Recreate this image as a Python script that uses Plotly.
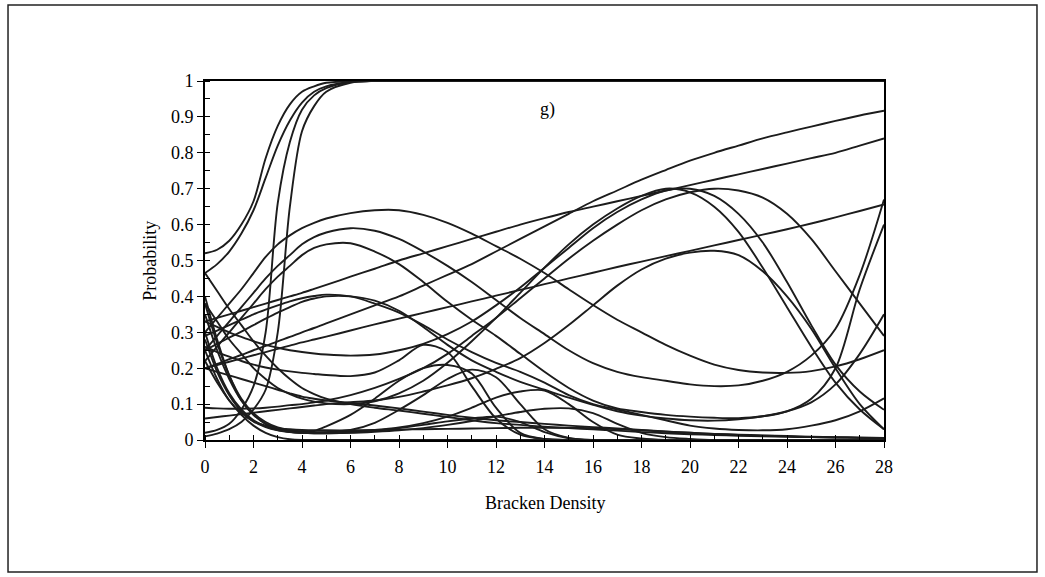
import plotly.graph_objects as go

# Shared x grid (Bracken Density) on which each curve was read
bracken_density = [0, 0.5, 1, 1.5, 2, 2.5, 3, 3.5, 4, 4.5, 5,
                   6, 7, 8, 9, 10, 11, 12, 13, 14, 15, 16, 17, 18, 19, 20,
                   21, 22, 23, 24, 25, 26, 27, 28]

rise_a = [0.52, 0.53, 0.555, 0.60, 0.665, 0.785, 0.875, 0.935, 0.97, 0.985, 0.995,
          0.999] + [1.0] * 22
rise_b = [0.465, 0.49, 0.525, 0.575, 0.64, 0.73, 0.82, 0.89, 0.94, 0.97, 0.985,
          0.998] + [1.0] * 22
rise_c = [0.02, 0.028, 0.045, 0.085, 0.15, 0.30, 0.66, 0.83, 0.92, 0.96, 0.98,
          0.997] + [1.0] * 22
rise_d = [0.01, 0.018, 0.03, 0.05, 0.085, 0.14, 0.30, 0.65, 0.86, 0.93, 0.97,
          0.995] + [1.0] * 22

fall_d1 = [0.465, 0.415, 0.365, 0.32, 0.275, 0.235, 0.2, 0.17, 0.145, 0.128, 0.115,
           0.1, 0.09, 0.082, 0.073, 0.064, 0.055, 0.047, 0.042, 0.037, 0.033, 0.03,
           0.026, 0.022, 0.019, 0.016, 0.014, 0.012, 0.01, 0.009, 0.008, 0.007, 0.006, 0.005]

dome_1 = [0.30, 0.34, 0.38, 0.42, 0.465, 0.51, 0.545, 0.57, 0.59, 0.605, 0.617,
          0.632, 0.64, 0.64, 0.627, 0.605, 0.575, 0.54, 0.505, 0.465, 0.42, 0.376,
          0.335, 0.30, 0.265, 0.235, 0.21, 0.195, 0.188, 0.187, 0.192, 0.205, 0.225, 0.25]
dome_2 = [0.25, 0.29, 0.33, 0.37, 0.41, 0.45, 0.485, 0.515, 0.545, 0.565, 0.578,
          0.59, 0.583, 0.56, 0.525, 0.485, 0.44, 0.39, 0.34, 0.295, 0.25, 0.214,
          0.19, 0.175, 0.165, 0.155, 0.15, 0.152, 0.165, 0.19, 0.235, 0.31, 0.46, 0.67]
dome_3 = [0.22, 0.26, 0.30, 0.34, 0.38, 0.42, 0.455, 0.485, 0.515, 0.535, 0.545,
          0.548, 0.525, 0.49, 0.44, 0.385, 0.335, 0.29, 0.24, 0.19, 0.145, 0.11,
          0.088, 0.078, 0.07, 0.065, 0.062, 0.061, 0.066, 0.08, 0.115, 0.2, 0.42, 0.6]
dome_4a = [0.25, 0.268, 0.285, 0.302, 0.32, 0.338, 0.355, 0.37, 0.385, 0.394, 0.4,
           0.4, 0.388, 0.36, 0.315, 0.265, 0.222, 0.19, 0.162, 0.14, 0.118, 0.098,
           0.08, 0.068, 0.06, 0.055, 0.054, 0.058, 0.066, 0.08, 0.105, 0.155, 0.24, 0.35]
dome_4b = [0.29, 0.305, 0.32, 0.335, 0.35, 0.363, 0.375, 0.386, 0.395, 0.401, 0.405,
           0.4, 0.38, 0.355, 0.32, 0.28, 0.245, 0.215, 0.19, 0.16, 0.125, 0.1,
           0.085, 0.07, 0.055, 0.04, 0.032, 0.028, 0.027, 0.03, 0.04, 0.055, 0.08, 0.116]

line_r1 = [0.2, 0.212, 0.225, 0.237, 0.25, 0.262, 0.275, 0.287, 0.3, 0.312, 0.325,
           0.35, 0.375, 0.4, 0.43, 0.46, 0.49, 0.525, 0.56, 0.595, 0.63, 0.665,
           0.695, 0.725, 0.752, 0.778, 0.8, 0.82, 0.84, 0.857, 0.873, 0.889, 0.904, 0.917]
line_r2 = [0.33, 0.34, 0.35, 0.36, 0.37, 0.38, 0.39, 0.4, 0.41, 0.421, 0.432,
           0.455, 0.477, 0.5, 0.52, 0.54, 0.56, 0.58, 0.6, 0.618, 0.635, 0.65,
           0.665, 0.68, 0.695, 0.71, 0.725, 0.74, 0.755, 0.77, 0.785, 0.80, 0.82, 0.84]
line_r3 = [0.2, 0.209, 0.218, 0.227, 0.236, 0.245, 0.254, 0.263, 0.272, 0.28, 0.288,
           0.305, 0.322, 0.338, 0.354, 0.37, 0.386, 0.402, 0.418, 0.434, 0.45, 0.466,
           0.482, 0.497, 0.512, 0.527, 0.542, 0.557, 0.572, 0.587, 0.603, 0.62, 0.638, 0.656]

peak_p1 = [0.09, 0.088, 0.087, 0.087, 0.088, 0.09, 0.093, 0.097, 0.1, 0.105, 0.11,
           0.125, 0.145, 0.17, 0.2, 0.24, 0.29, 0.34, 0.395, 0.45, 0.505, 0.555,
           0.6, 0.64, 0.67, 0.69, 0.70, 0.695, 0.675, 0.63, 0.56, 0.47, 0.38, 0.29]
peak_p2 = [0.06, 0.064, 0.068, 0.072, 0.076, 0.08, 0.084, 0.088, 0.092, 0.096, 0.1,
           0.105, 0.11, 0.12, 0.135, 0.152, 0.172, 0.198, 0.228, 0.27, 0.32, 0.375,
           0.43, 0.475, 0.505, 0.522, 0.527, 0.515, 0.47, 0.4, 0.31, 0.2, 0.1, 0.03]
peak_p3 = [0.33, 0.315, 0.3, 0.287, 0.275, 0.265, 0.257, 0.25, 0.245, 0.241, 0.238,
           0.235, 0.238, 0.25, 0.268, 0.295, 0.33, 0.375, 0.425, 0.48, 0.535, 0.59,
           0.635, 0.67, 0.695, 0.70, 0.68, 0.63, 0.55, 0.44, 0.32, 0.21, 0.135, 0.084]
peak_p4 = [0.38, 0.33, 0.28, 0.24, 0.2, 0.17, 0.145, 0.128, 0.115, 0.107, 0.102,
           0.1, 0.108, 0.13, 0.165, 0.215, 0.275, 0.34, 0.41, 0.48, 0.545, 0.6,
           0.645, 0.68, 0.70, 0.69, 0.65, 0.58, 0.48, 0.37, 0.26, 0.16, 0.085, 0.03]

bump_1 = [0.26, 0.245, 0.232, 0.22, 0.21, 0.202, 0.196, 0.191, 0.187, 0.184, 0.181,
          0.178, 0.188, 0.222, 0.265, 0.245, 0.15, 0.06, 0.015, 0.003] + [0.0] * 14
bump_2 = [0.35, 0.25, 0.17, 0.11, 0.07, 0.045, 0.03, 0.023, 0.02, 0.025, 0.038,
          0.07, 0.115, 0.165, 0.2, 0.209, 0.185, 0.09, 0.02, 0.003] + [0.0] * 14
bump_3 = [0.40, 0.28, 0.18, 0.11, 0.07, 0.045, 0.032, 0.025, 0.022, 0.021, 0.022,
          0.028, 0.048, 0.084, 0.125, 0.17, 0.196, 0.175, 0.1, 0.03, 0.006] + [0.0] * 13
bump_4 = [0.38, 0.27, 0.18, 0.115, 0.075, 0.05, 0.035, 0.028, 0.024, 0.022, 0.022,
          0.024, 0.028, 0.035, 0.047, 0.065, 0.09, 0.118, 0.135, 0.138, 0.1, 0.05,
          0.015, 0.004] + [0.0] * 10
bump_5 = [0.3, 0.2, 0.13, 0.085, 0.055, 0.038, 0.028, 0.023, 0.02, 0.019, 0.019,
          0.021, 0.026, 0.033, 0.042, 0.052, 0.06, 0.065, 0.05, 0.022, 0.005] + [0.0] * 13
bump_6 = [0.28, 0.19, 0.125, 0.08, 0.052, 0.036, 0.027, 0.022, 0.02, 0.019, 0.019,
          0.02, 0.023, 0.027, 0.033, 0.042, 0.053, 0.066, 0.078, 0.087, 0.088, 0.075,
          0.045, 0.02, 0.008, 0.003] + [0.0] * 8

low_l = [0.25, 0.17, 0.11, 0.075, 0.052, 0.04, 0.033, 0.03, 0.028, 0.027, 0.027,
         0.027, 0.028, 0.029, 0.03, 0.031, 0.032, 0.033, 0.034, 0.034, 0.034, 0.033,
         0.03, 0.027, 0.023, 0.02, 0.017, 0.014, 0.012, 0.01, 0.008, 0.007, 0.006, 0.005]
slow_s1 = [0.2, 0.19, 0.18, 0.17, 0.16, 0.15, 0.14, 0.13, 0.121, 0.115, 0.11,
           0.103, 0.096, 0.088, 0.079, 0.07, 0.062, 0.055, 0.05, 0.045, 0.04, 0.036,
           0.032, 0.028, 0.024, 0.02, 0.017, 0.015, 0.013, 0.011, 0.009, 0.008, 0.007, 0.006]
drop_z1 = [0.22, 0.16, 0.11, 0.07, 0.04, 0.02, 0.008, 0.002] + [0.0] * 26

curves = [rise_a, rise_b, rise_c, rise_d, fall_d1, dome_1, dome_2, dome_3, dome_4a,
          dome_4b, line_r1, line_r2, line_r3, peak_p1, peak_p2, peak_p3, peak_p4,
          bump_1, bump_2, bump_3, bump_4, bump_5, bump_6, low_l, slow_s1, drop_z1]

x_ticks = list(range(0, 29, 2))
y_ticks = [0, 0.1, 0.2, 0.3, 0.4, 0.5, 0.6, 0.7, 0.8, 0.9, 1]
y_tick_text = ["0", "0.1", "0.2", "0.3", "0.4", "0.5", "0.6", "0.7", "0.8", "0.9", "1"]

fig = go.Figure()
for ys in curves:
    fig.add_trace(go.Scatter(
        x=bracken_density, y=ys, mode="lines",
        line=dict(color="#1c1c1c", width=1.9, shape="spline", smoothing=0.9),
        showlegend=False, hoverinfo="skip"))

FONT = "Liberation Serif, Times New Roman, serif"
fig.update_layout(
    width=1045, height=577,
    margin=dict(l=205, r=161, t=81, b=137),
    paper_bgcolor="white", plot_bgcolor="white",
    font=dict(family=FONT, size=18, color="black"),
    showlegend=False,
)
fig.update_xaxes(
    range=[0, 28], tickvals=x_ticks, ticktext=[str(v) for v in x_ticks],
    showgrid=False, zeroline=False, showline=True, linecolor="black", linewidth=1.6,
    mirror=True, ticks="outside", ticklen=6, tickwidth=1.2, tickcolor="black",
    ticklabelstandoff=4,
    minor=dict(ticks="inside", dtick=1, tick0=0, ticklen=5, tickwidth=1, tickcolor="black"),
    tickfont=dict(family=FONT, size=18),
)
fig.update_yaxes(
    range=[0, 1], tickvals=y_ticks, ticktext=y_tick_text,
    showgrid=False, zeroline=False, showline=True, linecolor="black", linewidth=1.6,
    mirror=True, ticks="outside", ticklen=6, tickwidth=1.2, tickcolor="black",
    minor=dict(ticks="inside", dtick=0.05, tick0=0, ticklen=5, tickwidth=1, tickcolor="black"),
    tickfont=dict(family=FONT, size=18),
)

fig.add_annotation(text="g)", xref="paper", yref="paper", x=0.505, y=0.955,
                   showarrow=False, font=dict(family=FONT, size=18))
fig.add_annotation(text="Bracken Density", xref="paper", yref="paper", x=0.5, y=-0.1755,
                   xanchor="center", yanchor="middle", showarrow=False,
                   font=dict(family=FONT, size=18))
fig.add_annotation(text="Probability", xref="paper", yref="paper", x=-0.081, y=0.499,
                   xanchor="center", yanchor="middle", textangle=-90, showarrow=False,
                   font=dict(family=FONT, size=18))

# outer frame of the figure panel
fig.add_shape(type="rect", xref="paper", yref="paper",
              x0=-0.2901, x1=1.2253, y0=-0.3677, y1=1.2117,
              line=dict(color="#222222", width=1.5), fillcolor="rgba(0,0,0,0)")

fig.write_html("out.html")
